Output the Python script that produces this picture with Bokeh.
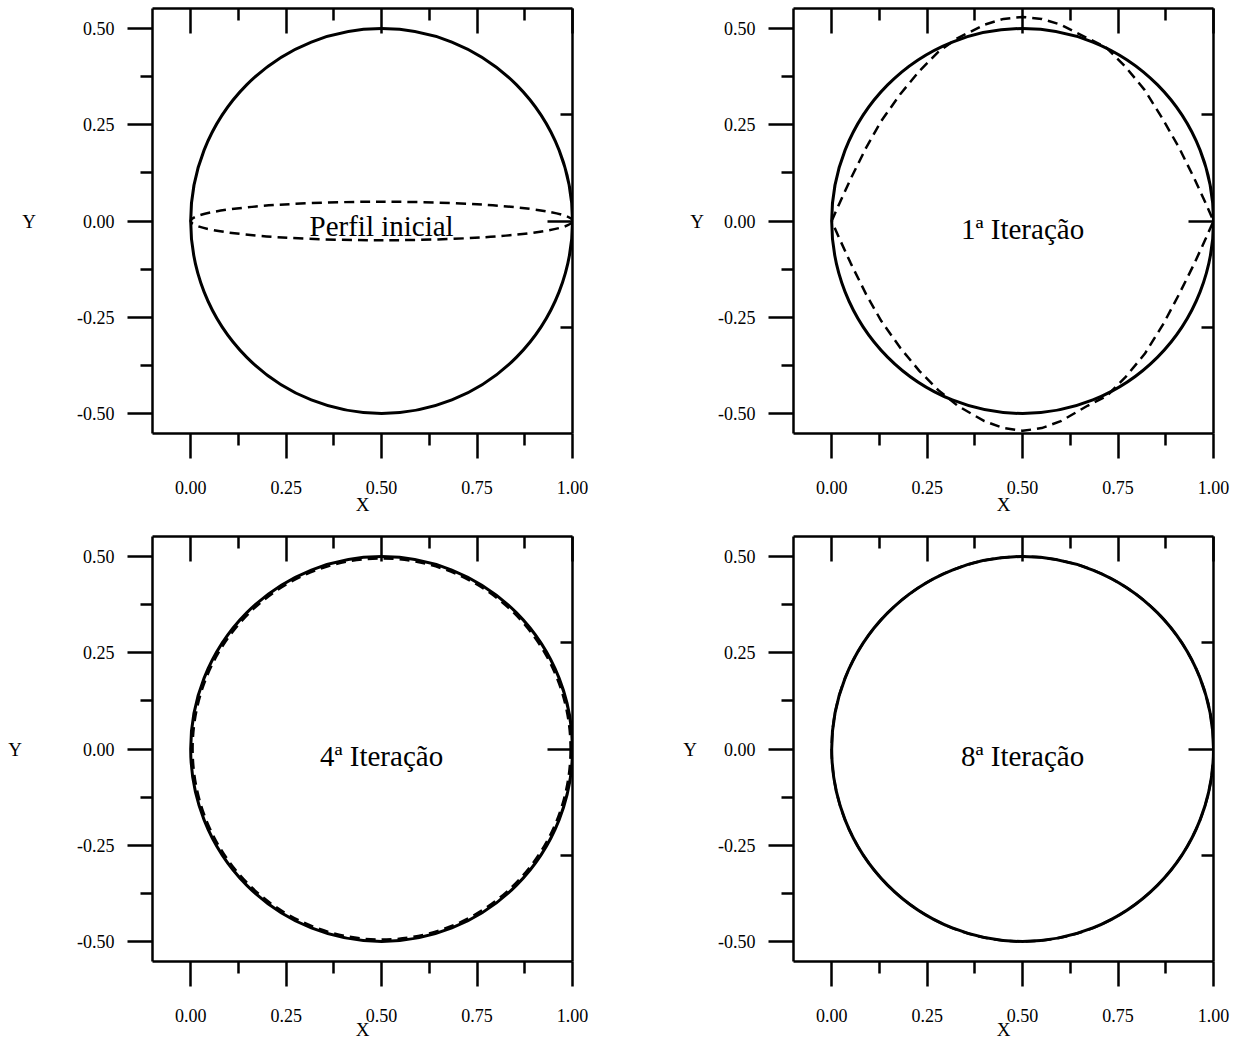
from bokeh.plotting import figure
from bokeh.layouts import column, row
from bokeh.models import Range1d, LinearAxis, FixedTicker
from bokeh.core.properties import value
from bokeh.embed import file_html
from bokeh.resources import INLINE

FONT = "Liberation Serif"

# ---------------- data ----------------
x_ticks = [0.0, 0.25, 0.5, 0.75, 1.0]
x_minor = [0.125, 0.375, 0.625, 0.875]
x_tick_labels = ["0.00", "0.25", "0.50", "0.75", "1.00"]
y_ticks = [-0.5, -0.25, 0.0, 0.25, 0.5]
y_minor = [-0.375, -0.125, 0.125, 0.375]
y_tick_labels = ["-0.50", "-0.25", "0.00", "0.25", "0.50"]
right_ticks = [0.0]
right_minor = [-0.277, 0.277]

# target circle (solid): centre and diameter
circle_cx = [0.5]
circle_cy = [0.0]
circle_w = [1.0]
circle_h = [1.0]

# initial profile (dashed flat ellipse)
init_cx = [0.5]
init_cy = [0.0]
init_w = [1.0]
init_h = [0.10]

# 1st iteration profile (dashed): upper half then lower half
iter1_x = [0.00, 0.02, 0.05, 0.09, 0.13, 0.18, 0.23, 0.28, 0.33, 0.40, 0.45, 0.50, 0.55, 0.60, 0.67, 0.72, 0.77,
           0.82, 0.87, 0.91, 0.95, 0.98, 1.00,
           0.98, 0.95, 0.91, 0.87, 0.82, 0.77, 0.72, 0.67, 0.60, 0.55, 0.50, 0.45, 0.40, 0.33, 0.28, 0.23,
           0.18, 0.13, 0.09, 0.05, 0.02, 0.00]
iter1_y = [0.00, 0.045, 0.11, 0.19, 0.26, 0.33, 0.39, 0.44, 0.475, 0.51, 0.525, 0.53, 0.525, 0.51, 0.475, 0.45, 0.40,
           0.34, 0.26, 0.19, 0.11, 0.045, 0.00,
           -0.045, -0.11, -0.19, -0.265, -0.345, -0.405, -0.455, -0.48, -0.52, -0.538, -0.545, -0.538, -0.52, -0.48,
           -0.44, -0.39, -0.33, -0.26, -0.19, -0.11, -0.045, 0.00]

# 4th iteration profile (dashed, nearly the circle)
iter4_cx = [0.5]
iter4_cy = [0.0]
iter4_w = [0.99]
iter4_h = [0.99]

# 8th iteration profile (dashed, coincides with the circle)
iter8_cx = [0.5]
iter8_cy = [0.0]
iter8_w = [1.0]
iter8_h = [1.0]

titles = ["Perfil inicial", "1ª Iteração", "4ª Iteração", "8ª Iteração"]
title_y = [-0.014, -0.02, -0.017, -0.017]

DASH = "10 6"


def hide_labels(ax, ticks):
    ax.major_label_overrides = {t: "" for t in ticks}
    ax.major_label_standoff = 0
    ax.major_label_text_font_size = "1px"


def make_panel(left_border, right_border, top_border, bottom_border, ylabel_standoff, xlabel_standoff):
    p = figure(width=left_border + 420 + right_border,
               height=top_border + 425 + bottom_border,
               x_range=Range1d(-0.1, 1.0), y_range=Range1d(-0.552, 0.552),
               output_backend="svg", toolbar_location=None,
               min_border_left=left_border, min_border_right=right_border,
               min_border_top=top_border, min_border_bottom=bottom_border)
    p.grid.visible = False
    p.outline_line_color = None
    p.background_fill_color = "white"
    p.border_fill_color = "white"

    xa = p.xaxis[0]
    xa.ticker = FixedTicker(ticks=x_ticks, minor_ticks=x_minor)
    xa.major_label_overrides = dict(zip(x_ticks, x_tick_labels))
    xa.axis_label = "X"
    ya = p.yaxis[0]
    ya.ticker = FixedTicker(ticks=y_ticks, minor_ticks=y_minor)
    ya.major_label_overrides = dict(zip(y_ticks, y_tick_labels))
    ya.axis_label = "Y"
    ya.axis_label_orientation = "horizontal"

    top = LinearAxis(ticker=FixedTicker(ticks=x_ticks, minor_ticks=x_minor))
    right = LinearAxis(ticker=FixedTicker(ticks=right_ticks, minor_ticks=right_minor))
    hide_labels(top, x_ticks)
    hide_labels(right, right_ticks)
    p.add_layout(top, "above")
    p.add_layout(right, "right")

    for ax in (xa, ya, top, right):
        ax.axis_line_width = 2.5
        ax.axis_line_color = "black"
        ax.major_tick_line_width = 2.5
        ax.minor_tick_line_width = 2.5
        ax.major_tick_line_color = "black"
        ax.minor_tick_line_color = "black"
        ax.major_label_text_font = FONT
        ax.axis_label_text_font = FONT
        ax.major_label_text_color = "black"
        ax.axis_label_text_color = "black"
        ax.axis_label_text_font_style = "normal"
    for ax in (xa, ya):
        ax.major_tick_out = 25
        ax.major_tick_in = 0
        ax.minor_tick_out = 12
        ax.minor_tick_in = 0
        ax.major_label_text_font_size = "18px"
        ax.axis_label_text_font_size = "19px"
    for ax in (top, right):
        ax.major_tick_out = 0
        ax.major_tick_in = 25
        ax.minor_tick_out = 0
        ax.minor_tick_in = 12
    xa.major_label_standoff = 22
    xa.axis_label_standoff = xlabel_standoff
    ya.major_label_standoff = 13
    ya.axis_label_standoff = ylabel_standoff
    return p


def add_circle(p):
    p.ellipse(x=circle_cx, y=circle_cy, width=circle_w, height=circle_h,
              fill_color=None, line_color="black", line_width=3)


def add_title(p, i):
    p.text(x=[0.5], y=[title_y[i]], text=[titles[i]], text_font=value(FONT),
           text_font_size="29px", text_align="center", text_baseline="middle",
           text_color="black")


p1 = make_panel(152, 28, 8, 84, 38, -3)
p1.ellipse(x=init_cx, y=init_cy, width=init_w, height=init_h, fill_color=None,
           line_color="black", line_width=2.5, line_dash=DASH)
add_circle(p1)
add_title(p1, 0)

p2 = make_panel(193, 20, 8, 84, 11, -3)
p2.line(x=iter1_x, y=iter1_y, line_color="black", line_width=2.5, line_dash=DASH)
add_circle(p2)
add_title(p2, 1)

p3 = make_panel(152, 28, 19, 81, 52, -6)
p3.ellipse(x=iter4_cx, y=iter4_cy, width=iter4_w, height=iter4_h, fill_color=None,
           line_color="black", line_width=2.5, line_dash=DASH)
add_circle(p3)
add_title(p3, 2)

p4 = make_panel(193, 20, 19, 81, 18, -6)
p4.ellipse(x=iter8_cx, y=iter8_cy, width=iter8_w, height=iter8_h, fill_color=None,
           line_color="black", line_width=2.5, line_dash=DASH)
add_circle(p4)
add_title(p4, 3)

layout = column(row(p1, p2), row(p3, p4))
open("out.html", "w").write(file_html(layout, INLINE))
